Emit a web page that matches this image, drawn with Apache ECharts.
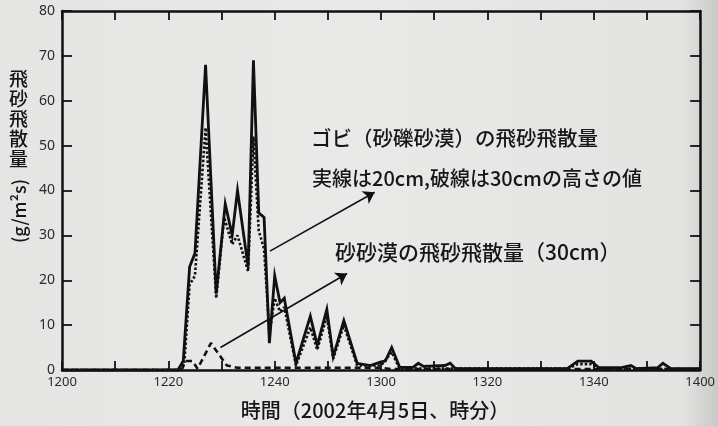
<!DOCTYPE html>
<html>
<head>
<meta charset="utf-8">
<script src="https://cdn.jsdelivr.net/npm/echarts@6/dist/echarts.min.js"></script>
<style>
  html, body { margin: 0; padding: 0; background: #e7e7e5; }
  #chart { width: 718px; height: 426px; }
</style>
</head>
<body>
<div id="chart"></div>
<script>
// Time is given in minutes after 12:00 on 2002-04-05.

// Gobi (gravel desert), 20 cm height — solid line
const gobi20Time  = [0, 21.8, 22.8, 24, 25, 27, 29, 30.7, 32, 33, 35, 36, 37, 38, 39, 40, 41, 41.8, 44, 46.7, 48, 49.8, 51, 53, 55.5, 58, 60, 60.8, 62, 63.5, 66, 67, 68, 72, 73, 74, 95, 97, 99.5, 101, 105, 107, 108, 112, 113, 114.5, 120];
const gobi20Value = [0, 0, 2, 23, 26, 68, 17, 37, 30, 40, 23, 69, 35, 34, 6, 21, 15, 16, 1.5, 12, 5.5, 13.5, 3, 11, 1.5, 1, 1.8, 2, 5, 0.6, 0.6, 1.5, 0.8, 1, 1.5, 0.3, 0.3, 2, 2, 0.5, 0.5, 1, 0.3, 0.5, 1.5, 0.3, 0.3];

// Gobi (gravel desert), 30 cm height — dotted line
const gobi30Time  = [0, 22, 23, 24, 25, 27, 29, 30.5, 32, 33, 35, 36, 37, 38, 39, 40, 41, 41.8, 44, 46.7, 48, 49.8, 51, 53, 55.5, 60, 62, 63.5, 95, 97, 99.5, 101, 120];
const gobi30Value = [0, 0, 1.5, 19, 21, 54, 16, 34, 28, 30, 22, 52, 31, 27, 8, 16, 13, 14, 1, 9.5, 4.5, 12, 2.5, 10, 1, 1, 4, 0.3, 0.3, 1.3, 1.3, 0.3, 0.2];

// Sand desert, 30 cm height — dashed line
const sandTime  = [0, 22.5, 23.2, 24.5, 25.5, 28, 31, 33, 60, 62, 120];
const sandValue = [0, 0, 2, 2, 0.3, 6, 1, 0.5, 0.5, 0.2, 0.2];

// Axis ticks
const xTickLabels = ['1200', '1220', '1240', '1300', '1320', '1340', '1400'];
const yMax = 80;

// Annotation texts and arrows (arrow ends in minutes / g·m⁻²·s⁻¹)
const noteGobi  = 'ゴビ（砂礫砂漠）の飛砂飛散量';
const noteLines = '実線は20cm,破線は30cmの高さの値';
const noteSand  = '砂砂漠の飛砂飛散量（30cm）';
const arrowGobi = [[39.1, 26.5], [58.8, 39.6]];
const arrowSand = [[29.8, 5.0], [53.6, 21.5]];

const pairs = (t, v) => t.map((x, i) => [x, v[i]]);

const ink = '#111111';
const textInk = '#161616';
const cjk = '"Noto Sans CJK JP", "Noto Sans", sans-serif';
const tickFont = '"Noto Sans", "DejaVu Sans", sans-serif';

const chart = echarts.init(document.getElementById('chart'), null, { renderer: 'canvas' });

const baseX = {
  type: 'value', min: 0, max: 120, interval: 10,
  splitLine: { show: false },
  axisLine: { show: true, onZero: false, lineStyle: { color: ink, width: 2.5 } },
  axisTick: { show: true, inside: true, length: 9, lineStyle: { color: ink, width: 1.8 } }
};
const baseY = {
  type: 'value', min: 0, max: yMax, interval: 10,
  splitLine: { show: false },
  axisLine: { show: true, onZero: false, lineStyle: { color: ink, width: 2.5 } },
  axisTick: { show: true, inside: true, length: 10, lineStyle: { color: ink, width: 1.8 } }
};

const arrowLine = (a) => [{ coord: a[0], symbol: 'none' }, { coord: a[1], symbol: 'arrow' }];

chart.setOption({
  animation: false,
  backgroundColor: new echarts.graphic.LinearGradient(0, 0, 1, 0, [
    { offset: 0, color: '#e5e5e3' },
    { offset: 0.5, color: '#e9e9e7' },
    { offset: 0.95, color: '#e3e3e1' },
    { offset: 1, color: '#c9c9c7' }
  ]),
  grid: { left: 62, right: 11, top: 11, bottom: 56 },
  xAxis: [
    Object.assign({}, baseX, {
      position: 'bottom',
      axisLabel: {
        show: true, margin: 6, color: '#2a2a2a', fontSize: 13, fontFamily: tickFont,
        showMinLabel: true, showMaxLabel: true,
        formatter: (v) => (v % 20 === 0 ? xTickLabels[v / 20] : '')
      }
    }),
    Object.assign({}, baseX, { position: 'top', axisLabel: { show: false } })
  ],
  yAxis: [
    Object.assign({}, baseY, {
      position: 'left',
      axisLabel: { show: true, margin: 7, color: '#2a2a2a', fontSize: 14, fontFamily: tickFont }
    }),
    Object.assign({}, baseY, { position: 'right', axisLabel: { show: false } })
  ],
  series: [
    {
      name: 'ゴビ 20cm', type: 'line', xAxisIndex: 0, yAxisIndex: 0,
      data: pairs(gobi20Time, gobi20Value),
      showSymbol: false, symbol: 'none', silent: true,
      lineStyle: { color: ink, width: 2.8, type: 'solid', join: 'miter' }
    },
    {
      name: 'ゴビ 30cm', type: 'line', xAxisIndex: 0, yAxisIndex: 0,
      data: pairs(gobi30Time, gobi30Value),
      showSymbol: false, symbol: 'none', silent: true,
      lineStyle: { color: ink, width: 2.6, type: [2.5, 2] }
    },
    {
      name: '砂砂漠 30cm', type: 'line', xAxisIndex: 0, yAxisIndex: 0,
      data: pairs(sandTime, sandValue),
      showSymbol: false, symbol: 'none', silent: true,
      lineStyle: { color: ink, width: 2.6, type: [6, 4] },
      markLine: {
        silent: true, animation: false,
        symbolSize: 11,
        label: { show: false },
        lineStyle: { color: ink, width: 1.6, type: 'solid' },
        emphasis: { disabled: true },
        data: [arrowLine(arrowGobi), arrowLine(arrowSand)]
      }
    }
  ],
  graphic: [
    // y-axis title: upright kanji column, then rotated unit
    {
      type: 'text', left: 9, top: 69, silent: true,
      style: { text: '飛\n砂\n飛\n散\n量', font: '500 19px ' + cjk, fill: textInk, lineHeight: 20 }
    },
    {
      type: 'text', x: 19, y: 211, rotation: Math.PI / 2, silent: true,
      style: { text: '(g/m²s)', font: '500 18px ' + cjk, fill: textInk, align: 'center', verticalAlign: 'middle' }
    },
    // x-axis title
    {
      type: 'text', x: 375, y: 410, silent: true,
      style: { text: '時間（2002年4月5日、時分）', font: '500 20px ' + cjk, fill: textInk, align: 'center', verticalAlign: 'middle' }
    },
    // annotations
    {
      type: 'text', x: 311, y: 138, silent: true,
      style: { text: noteGobi, font: '500 20.5px ' + cjk, fill: textInk, verticalAlign: 'middle' }
    },
    {
      type: 'text', x: 312, y: 178, silent: true,
      style: { text: noteLines, font: '500 20px ' + cjk, fill: textInk, verticalAlign: 'middle' }
    },
    {
      type: 'text', x: 335, y: 252, silent: true,
      style: { text: noteSand, font: '500 21px ' + cjk, fill: textInk, verticalAlign: 'middle' }
    }
  ]
});
</script>
</body>
</html>
